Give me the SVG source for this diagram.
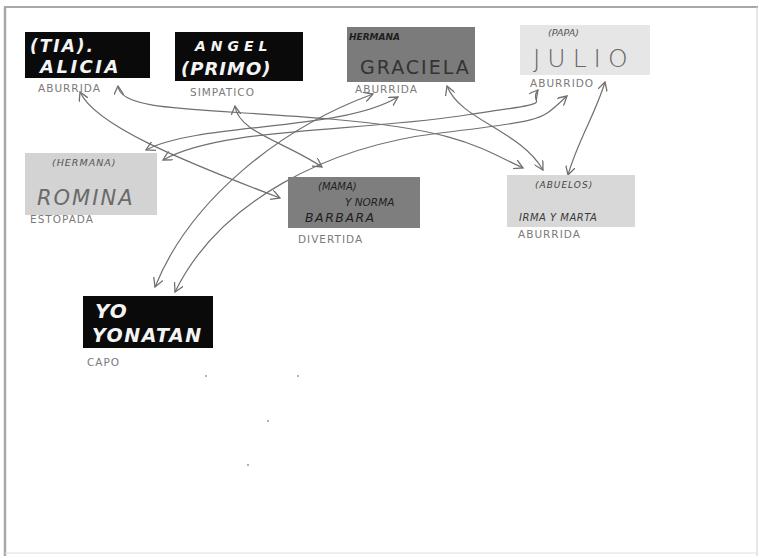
<svg xmlns="http://www.w3.org/2000/svg" width="759" height="558" viewBox="0 0 759 558">
<style>
.hand{font-family:"DejaVu Sans","Liberation Sans",sans-serif;}
.w{fill:#f4f4f4;font-weight:bold;font-style:italic;}
.lab{fill:#7a7a7a;font-size:10.5px;letter-spacing:1px;}
.con{fill:none;stroke:#707070;stroke-width:1.2;}
</style>
<defs>
<marker id="ah" viewBox="0 0 10 10" refX="9" refY="5" markerWidth="10" markerHeight="10" markerUnits="userSpaceOnUse" orient="auto-start-reverse">
<path d="M0,0 L9,5 L0,10" fill="none" stroke="#707070" stroke-width="1.3"/>
</marker>
</defs>
<rect x="0" y="0" width="759" height="558" fill="#ffffff"/>
<g id="frame" fill="none" stroke="#a8a8a8">
<line x1="4" y1="7" x2="758" y2="7" stroke-width="2"/>
<line x1="5" y1="7" x2="5" y2="556" stroke-width="2.5"/>
<line x1="757" y1="7" x2="757" y2="556" stroke-width="1" stroke="#d0d0d0"/>
<line x1="5" y1="553" x2="757" y2="553" stroke-width="1" stroke="#e0e0e0"/>
</g>

<g id="connectors">
<path class="con" marker-start="url(#ah)" marker-end="url(#ah)" d="M118,86 C120,112 200,108 330,119 S480,148 523,168"/>
<path class="con" marker-start="url(#ah)" marker-end="url(#ah)" d="M80,92 C95,125 180,160 280,198"/>
<path class="con" marker-start="url(#ah)" marker-end="url(#ah)" d="M235,106 C238,132 285,142 322,167"/>
<path class="con" marker-start="url(#ah)" marker-end="url(#ah)" d="M146,150 C200,122 340,132 398,97"/>
<path class="con" marker-start="url(#ah)" marker-end="url(#ah)" d="M163,160 C220,128 350,132 460,116 S525,106 538,90"/>
<path class="con" marker-start="url(#ah)" marker-end="url(#ah)" d="M155,287 C190,200 280,128 373,94"/>
<path class="con" marker-start="url(#ah)" marker-end="url(#ah)" d="M175,292 C220,200 330,146 440,133 S540,120 567,96"/>
<path class="con" marker-start="url(#ah)" marker-end="url(#ah)" d="M447,86 C460,120 520,130 543,170"/>
<path class="con" marker-start="url(#ah)" marker-end="url(#ah)" d="M605,82 C595,115 578,140 568,175"/>
</g>

<g id="alicia" class="hand">
<rect x="25" y="32" width="125" height="46" fill="#0a0a0a"/>
<text class="w" x="30" y="52" font-size="17" letter-spacing="2">(TIA).</text>
<text class="w" x="40" y="73" font-size="18" letter-spacing="2.5">ALICIA</text>
<text class="lab" x="38" y="92">ABURRIDA</text>
</g>

<g id="angel" class="hand">
<rect x="175" y="32" width="128" height="49" fill="#0a0a0a"/>
<text class="w" x="195" y="51" font-size="14" letter-spacing="5">ANGEL</text>
<text class="w" x="181" y="75" font-size="18" letter-spacing="1">(PRIMO)</text>
<text class="lab" x="190" y="96">SIMPATICO</text>
</g>

<g id="graciela" class="hand">
<rect x="347" y="27" width="128" height="55" fill="#7b7b7b"/>
<text x="349" y="40" font-size="9" fill="#1e1e1e" font-weight="bold" font-style="italic">HERMANA</text>
<text x="360" y="74" font-size="19" fill="#333" letter-spacing="2">GRACIELA</text>
<text class="lab" x="355" y="93">ABURRIDA</text>
</g>

<g id="julio" class="hand">
<rect x="520" y="25" width="130" height="50" fill="#e6e6e6"/>
<text x="548" y="36" font-size="9.5" fill="#555" font-style="italic">(PAPA)</text>
<text x="533" y="67" font-size="25" fill="#666" letter-spacing="7" font-weight="300">JULIO</text>
<text class="lab" x="530" y="87" font-size="9.5">ABURRIDO</text>
</g>

<g id="romina" class="hand">
<rect x="25" y="153" width="132" height="62" fill="#d3d3d3"/>
<text x="52" y="166" font-size="9.5" fill="#555" font-style="italic" letter-spacing="1">(HERMANA)</text>
<text x="37" y="205" font-size="21" fill="#6a6a6a" font-style="italic" letter-spacing="2">ROMINA</text>
<text class="lab" x="30" y="223" fill="#555">ESTOPADA</text>
</g>

<g id="barbara" class="hand">
<rect x="288" y="177" width="132" height="51" fill="#7e7e7e"/>
<text x="318" y="190" font-size="10" fill="#1e1e1e" font-style="italic">(MAMA)</text>
<text x="345" y="206" font-size="10.5" fill="#1e1e1e" font-style="italic">Y NORMA</text>
<text x="305" y="222" font-size="12.5" fill="#1e1e1e" font-style="italic" letter-spacing="1.5">BARBARA</text>
<text class="lab" x="298" y="243">DIVERTIDA</text>
</g>

<g id="abuelos" class="hand">
<rect x="507" y="175" width="128" height="52" fill="#d8d8d8"/>
<text x="535" y="188" font-size="9" fill="#444" font-style="italic" letter-spacing="1">(ABUELOS)</text>
<text x="519" y="221" font-size="10" fill="#3a3a3a" font-style="italic" letter-spacing="0.5">IRMA Y MARTA</text>
<text class="lab" x="518" y="238" fill="#555">ABURRIDA</text>
</g>

<g id="yonatan" class="hand">
<rect x="83" y="296" width="130" height="52" fill="#0a0a0a"/>
<text class="w" x="95" y="318" font-size="20" letter-spacing="1">YO</text>
<text class="w" x="92" y="342" font-size="19" letter-spacing="1.5">YONATAN</text>
<text class="lab" x="87" y="366" font-size="13" fill="#8a8a8a">CAPO</text>
</g>

<g id="specks" fill="#999">
<circle cx="206" cy="376" r="1"/>
<circle cx="298" cy="376" r="1"/>
<circle cx="268" cy="421" r="1"/>
<circle cx="248" cy="465" r="1"/>
</g>
</svg>
